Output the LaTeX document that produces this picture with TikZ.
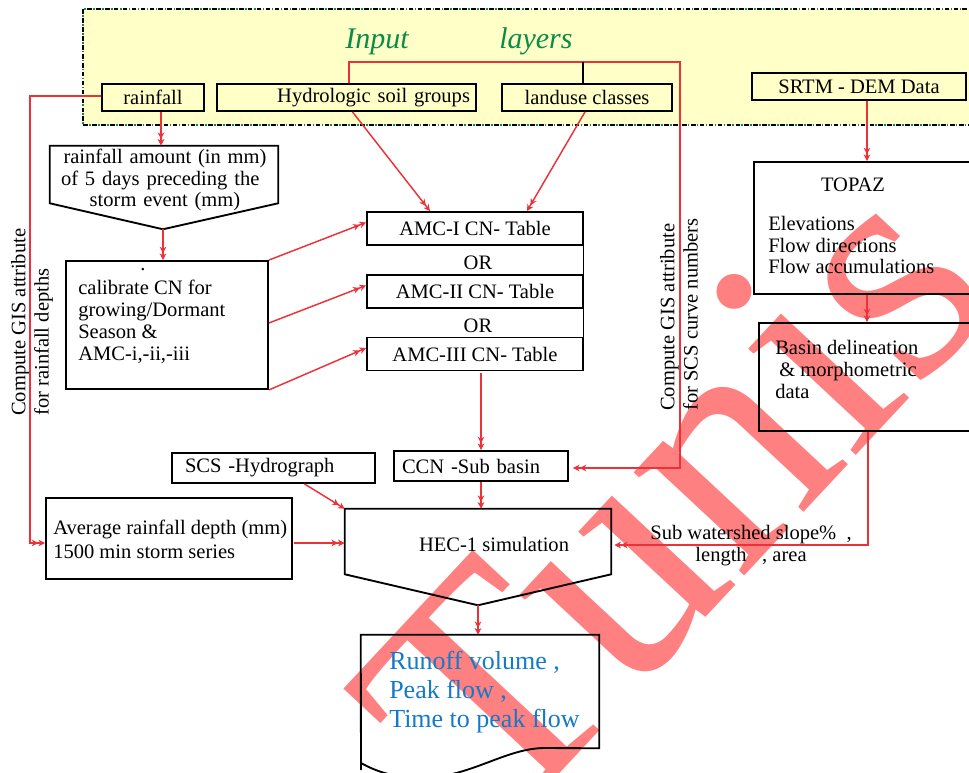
\documentclass[tikz,border=0pt]{standalone}
\usepackage{fontspec}
\setmainfont{Liberation Serif}
\usetikzlibrary{arrows.meta,calc}
\definecolor{redl}{RGB}{236,50,56}
\definecolor{wm}{RGB}{255,128,128}
\definecolor{bandfill}{RGB}{255,255,200}
\definecolor{greent}{RGB}{10,140,70}
\definecolor{bluet}{RGB}{20,122,200}
\begin{document}
\begin{tikzpicture}[x=0.75pt,y=-0.75pt,font=\fontsize{15.4}{16.5}\selectfont,
  box/.style={draw=black,line width=1.4pt,inner sep=0pt},
  wh/.style 2 args={minimum width={#1*0.75pt},minimum height={#2*0.75pt}},
  txt/.style={inner sep=0pt,align=left},
  rl/.style={draw=redl,line width=1.1pt},
  arr/.style={rl,-{Stealth[length=5pt,width=5pt]Stealth[length=5pt,width=5pt]}},
  outline/.style={draw=black,line width=1.4pt}]
\useasboundingbox (0,0) rectangle (969,773);
\clip (0,0) rectangle (969,773);
% watermark
\node[text=wm,rotate=47,inner sep=0pt,font=\fontsize{247}{247}\selectfont] (wmk) at (671,497) {Tunis};
% input layers band
\fill[bandfill] (83,9) rectangle (985,125);
\draw[line width=1.3pt,dash pattern=on 3.5pt off 3.2pt] (985,9) -- (83,9) -- (83,125) -- (985,125);
\draw[greent,line width=1.3pt,dash pattern=on 1.2pt off 5.5pt,dash phase=-4.4pt] (985,9) -- (83,9) -- (83,125) -- (985,125);
\node[anchor=base west,inner sep=0pt,text=greent,font=\fontsize{22.5}{24}\selectfont\itshape] (title) at (345,49) {Input\hspace{68pt}layers};
\coordinate (c583) at (583,0);
\coordinate (c867) at (867,0);
% input boxes
\node[box,wh={102}{27}] (rain) at (153,97.5) {rainfall};
\node[box,wh={259}{27},align=right,text width={247*0.75pt}] (hsg) at (346.5,97.5) {Hydrologic soil groups};
\node[box,wh={170}{27}] (land) at (587,97.5) {landuse classes};
\node[box,wh={214}{27}] (srtm) at (859,86.5) {SRTM - DEM Data};
% rainfall amount
\node[wh={228}{57},inner sep=0pt] (amt) at (164,174.5) {};
\draw[outline] (amt.north west) -- (amt.north east) -- (amt.south east) -- ($(amt.south)+(-1,26)$) coordinate (amttip) -- (amt.south west) -- cycle;
\node[txt,align=center,text width=157pt,font=\fontsize{15.4}{16.1}\selectfont] (amtt) at (165,180) {rainfall amount (in mm)\\\makebox[156pt][s]{of 5 days preceding the}\\storm event (mm)};
% calibrate
\node[box,wh={202}{128}] (cal) at (167,325) {};
\node[txt] (dot) at (143,270) {.};
\node[txt,anchor=west] (calt) at (78,322) {calibrate CN for\\growing/Dormant\\Season \&\\AMC-i,-ii,-iii};
% AMC tables
\node[box,wh={216}{33}] (amc1) at (475,228.5) {AMC-I CN- Table};
\node[box,wh={216}{33}] (amc2) at (475,291.5) {AMC-II CN- Table};
\node[box,wh={216}{33}] (amc3) at (475,354) {AMC-III CN- Table};
\node (or1) at (478,263) {OR};
\node (or2) at (478,326) {OR};
\draw[line width=0.8pt] (amc1.south east) -- (amc2.north east) (amc2.south east) -- (amc3.north east);
% lower boxes
\node[box,wh={174}{30},text width={158*0.75pt},align=left] (ccn) at (481,466) {CCN -Sub basin};
\node[box,wh={203}{30},text width={177*0.75pt},align=left] (scs) at (273.5,468) {SCS -Hydrograph};
\node[box,wh={246}{81}] (avg) at (169,538.5) {};
\node[txt,anchor=west,font=\fontsize{15.4}{18}\selectfont] (avgt) at (53,539) {Average rainfall depth (mm)\\1500 min storm series};
\node[wh={266}{65},inner sep=0pt] (hec) at (478,541.5) {};
\draw[outline] (hec.north west) -- (hec.north east) -- (hec.south east) -- ($(hec.south)+(0,31)$) coordinate (hectip) -- (hec.south west) -- cycle;
\node (hect) at (494,544) {HEC-1 simulation};
\node[wh={238}{113},inner sep=0pt] (run) at (480,691.5) {};
\draw[outline] (361,770) -- (run.north west) -- (run.north east) -- (run.south east) -- (545,748) .. controls (505,748) and (470,778) .. (420,778) .. controls (395,778) and (375,771) .. (361,763);
\node[txt,anchor=west,text=bluet,font=\fontsize{19.5}{21.75}\selectfont] (runt) at (389,692) {Runoff volume ,\\Peak flow ,\\Time to peak flow};
% right column
\node[box,wh={221}{132}] (topaz) at (864.5,228) {};
\node (topt) at (853,185) {TOPAZ};
\node[txt,anchor=west,font=\fontsize{15.4}{16.1}\selectfont] (topl) at (768,245) {Elevations\\Flow directions\\Flow accumulations};
\node[box,wh={221}{108}] (basin) at (869.5,377) {};
\node[txt,anchor=west] (basint) at (775,369.5) {Basin delineation\\\hspace*{3pt}\& morphometric\\data};
% rotated labels
\node[txt,rotate=90,anchor=west,font=\fontsize{15.4}{17.5}\selectfont] (gisl) at (32,416) {Compute GIS attribute\\for rainfall depths};
\node[txt,rotate=90,anchor=west,font=\fontsize{15.4}{17.5}\selectfont] (gisr) at (679,411) {Compute GIS attribute\\for SCS curve numbers};
\node[align=center,inner sep=0pt] (subw) at (751,546) {Sub watershed slope\%\ \ ,\\length\ \ \ , area};
% connectors
\draw[arr] ($(rain.south)+(8,0)$) -- ($(amt.north)+(-3,0)$);
\draw[arr] (amttip) -- (cal.north -| amttip);
\draw[arr] (cal.north east) -- ($(amc1.west)+(0,-6)$);
\draw[arr] ($(cal.east)+(0,-2)$) -- ($(amc2.west)+(0,-6)$);
\draw[arr] (cal.south east) -- ($(amc3.west)+(0,-6)$);
\draw[arr] ($(hsg.south)+(6,0)$) -- ($(amc1.north)+(-45,0)$);
\draw[arr] ($(land.south)+(-2,0)$) -- ($(amc1.north)+(52,0)$);
\draw[arr] ($(amc3.south)+(6,2)$) -- ($(ccn.north)+(0,0)$);
\draw[arr] ($(hsg.north)+(2.5,0)$) -- ++(0,-21) -- ++(331,0) |- ($(ccn.east)+(4,2)$);
\draw[line width=1pt] (land.north -| c583) -- ++(0,-21);
\draw[arr] ($(rain.west)+(0,-1.5)$) -- ++(-71,0) |- ($(avg.west)+(0,4.5)$);
\draw[arr] (ccn.south) -- (ccn.south |- hec.north);
\draw[arr] ($(scs.south)+(31,0)$) -- (hec.north west);
\draw[arr] ($(avg.east)+(1,4.5)$) -- ($(hec.west)+(0,1.5)$);
\draw[arr] ($(basin.south)+(-1.5,0)$) |- ($(hec.east)+(3,3.5)$);
\draw[arr] (hectip) -- (hectip |- run.north);
\draw[arr] (srtm.south -| c867) -- (topaz.north -| c867);
\draw[arr] (topaz.south -| c867) -- (basin.north -| c867);
\end{tikzpicture}
\end{document}
